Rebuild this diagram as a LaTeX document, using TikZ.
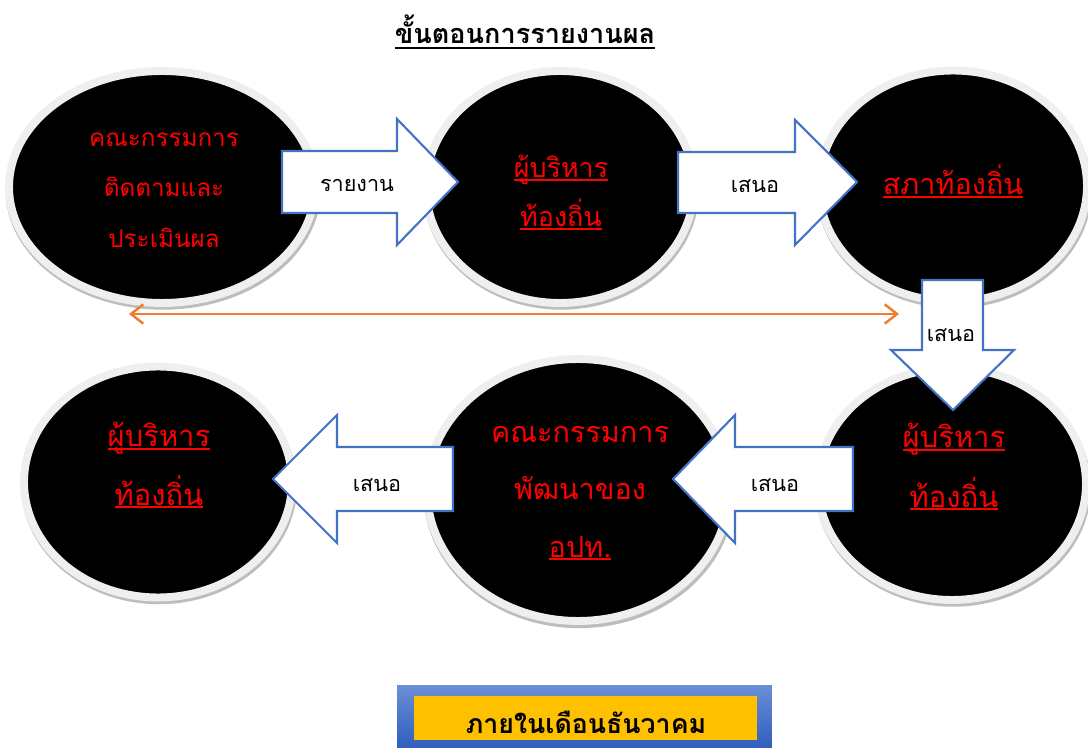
\documentclass[tikz,border=0pt]{standalone}
\usepackage{fontspec}
\setmainfont[Script=Thai]{Loma}
\usetikzlibrary{shapes.geometric, shadows, arrows.meta}

\definecolor{ringgray}{HTML}{EFEFEF}
\definecolor{shadowgray}{HTML}{BDBDBD}
\definecolor{arrowblue}{HTML}{4472C4}
\definecolor{lineorange}{HTML}{ED7D31}
\definecolor{boxyellow}{HTML}{FFC000}
\definecolor{frametop}{HTML}{6B8FD6}
\definecolor{framebot}{HTML}{2F5EBE}

% underline drawn at a fixed depth below the baseline
\newcommand{\ulthai}[2][-1.8pt]{\setbox0=\hbox{#2}\rlap{\rule[#1]{\wd0}{1.1pt}}\box0}

\tikzset{
  disc/.style={ellipse, fill=black, draw=ringgray, line width=4.5pt, inner sep=0pt,
    drop shadow={shadow xshift=0.6pt, shadow yshift=-1.8pt, shadow scale=1.03,
      fill=shadowgray, opacity=1}},
  redtext/.style={text=red, anchor=base, inner sep=0pt},
  arrowtext/.style={text=black, anchor=base, inner sep=0pt, font=\fontsize{12.3}{15}\selectfont},
  blockarrow/.style={draw=arrowblue, fill=white, line width=1.2pt, line join=miter},
  orangeline/.style={draw=lineorange, line width=1.4pt,
    {Straight Barb[length=7pt, width=11pt]}-{Straight Barb[length=7pt, width=11pt]}},
}

\begin{document}
\begin{tikzpicture}[x=0.02cm, y=-0.02cm]
\useasboundingbox (0,0) rectangle (1088,749);

% Title
\node[anchor=base, inner sep=0pt, font=\fontsize{15.4}{18}\selectfont\bfseries] at (525,44) (title) {\ulthai[-3pt]{ขั้นตอนการรายงานผล}};

        % Draw the ellipses
        \node[disc, minimum width=6.12cm, minimum height=4.64cm] at (162, 187)   (e1)   {};
        \node[disc, minimum width=5.36cm, minimum height=4.64cm] at (560, 187)   (e2)   {};
        \node[disc, minimum width=5.36cm, minimum height=4.62cm] at (953, 186)   (e3)   {};
        \node[disc, minimum width=5.36cm, minimum height=4.62cm] at (158, 482)   (e4)   {};
        \node[disc, minimum width=6.04cm, minimum height=5.24cm] at (578, 490)   (e5)   {};
        \node[disc, minimum width=5.36cm, minimum height=4.64cm] at (952, 484)   (e6)   {};

% Orange line
\coordinate (l1) at (129, 314);
\coordinate (l2) at (899, 314);
\draw[orangeline] (l1) -- (l2);

        % Draw the block arrows
        \draw[blockarrow] (282,151) -- (397,151) -- (397,119) -- (458,182) -- (397,245) -- (397,213) -- (282,213) -- cycle;
        \draw[blockarrow] (678,152) -- (795,152) -- (795,120) -- (857,182) -- (795,245) -- (795,213) -- (678,213) -- cycle;
        \draw[blockarrow] (922,280) -- (983,280) -- (983,350) -- (1014,350) -- (953,410) -- (891,350) -- (922,350) -- cycle;
        \draw[blockarrow] (853,447) -- (735,447) -- (735,415) -- (673,479) -- (735,543) -- (735,511) -- (853,511) -- cycle;
        \draw[blockarrow] (453,447) -- (337,447) -- (337,415) -- (273,479) -- (337,543) -- (337,511) -- (453,511) -- cycle;

        \node[arrowtext] at (357, 192)   (a1)   {รายงาน};
        \node[arrowtext] at (755, 193)   (a2)   {เสนอ};
        \node[arrowtext] at (951, 342)   (a3)   {เสนอ};
        \node[arrowtext] at (775, 491)   (a4)   {เสนอ};
        \node[arrowtext] at (377, 491)   (a5)   {เสนอ};

        % Texts in the ellipses
        \node[redtext, font=\fontsize{13.8}{17}\selectfont] at (164, 147)   (t1a)   {คณะกรรมการ};
        \node[redtext, font=\fontsize{13.8}{17}\selectfont] at (164, 197)   (t1b)   {ติดตามและ};
        \node[redtext, font=\fontsize{13.8}{17}\selectfont] at (164, 248)   (t1c)   {ประเมินผล};
        \node[redtext, font=\fontsize{15.3}{17}\selectfont] at (561, 178)   (t2a)   {\ulthai{ผู้บริหาร}};
        \node[redtext, font=\fontsize{15.3}{17}\selectfont] at (561, 227)   (t2b)   {\ulthai{ท้องถิ่น}};
        \node[redtext, font=\fontsize{16.4}{17}\selectfont] at (953, 195)   (t3a)   {\ulthai{สภาท้องถิ่น}};
        \node[redtext, font=\fontsize{16.6}{17}\selectfont] at (159, 447)   (t4a)   {\ulthai{ผู้บริหาร}};
        \node[redtext, font=\fontsize{16.6}{17}\selectfont] at (159, 505)   (t4b)   {\ulthai{ท้องถิ่น}};
        \node[redtext, font=\fontsize{16.4}{19}\selectfont] at (580, 442)   (t5a)   {คณะกรรมการ};
        \node[redtext, font=\fontsize{16.4}{19}\selectfont] at (580, 500)   (t5b)   {พัฒนาของ};
        \node[redtext, font=\fontsize{16.4}{19}\selectfont] at (580, 557)   (t5c)   {\ulthai{อปท.}};
        \node[redtext, font=\fontsize{16.6}{17}\selectfont] at (954, 448)   (t6a)   {\ulthai{ผู้บริหาร}};
        \node[redtext, font=\fontsize{16.6}{17}\selectfont] at (954, 507)   (t6b)   {\ulthai{ท้องถิ่น}};

% Bottom box
\node[shade, top color=frametop, bottom color=framebot, minimum width=7.5cm, minimum height=1.26cm, inner sep=0pt] at (584.5, 716.5) (frame) {};
\node[fill=boxyellow, minimum width=6.86cm, minimum height=0.88cm, inner sep=0pt] at (585.5, 718) (month) {};
\node[anchor=base, inner sep=0pt, font=\fontsize{15.2}{18}\selectfont\bfseries] at (586, 733) (monthtext) {ภายในเดือนธันวาคม};
\end{tikzpicture}
\end{document}
